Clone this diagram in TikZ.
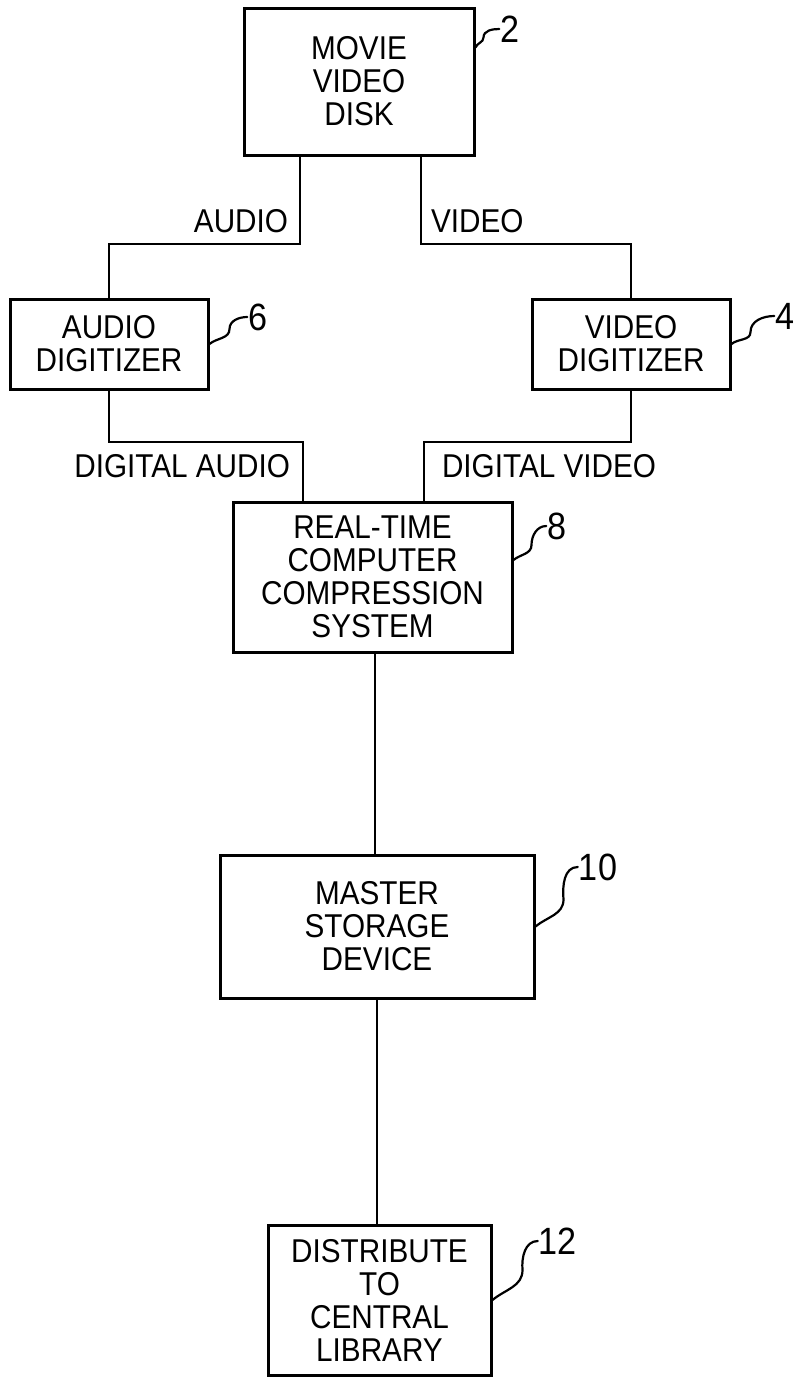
\documentclass[tikz,border=0pt]{standalone}
\usepackage{fontspec}
\setmainfont[FakeStretch=0.9]{Liberation Sans}
\usepackage{tikz}
\usetikzlibrary{
positioning,
calc
}
\tikzset{
patblock/.style={draw, rectangle, line width=3pt, inner sep=0pt, align=center,
  font=\fontsize{33}{33}\selectfont},
patwire/.style={line width=2pt},
patlabel/.style={inner sep=0pt, font=\fontsize{33}{33}\selectfont},
refnum/.style={inner sep=1pt, font=\fontsize{38}{38}\selectfont},
refline/.style={line width=2.2pt, line cap=round}
}

\begin{document}
\begin{tikzpicture}[x=1pt, y=1pt]
\useasboundingbox (0,0) rectangle (798,-1377);

\node[patblock, minimum width=230pt, minimum height=147pt] (disk) at (359,-81.5) {MOVIE\\VIDEO\\DISK};
\node[patblock, minimum width=198pt, minimum height=90pt] (audiodig) at (109,-344) {AUDIO\\DIGITIZER};
\node[patblock, minimum width=198pt, minimum height=90pt] (videodig) at (631,-344) {VIDEO\\DIGITIZER};
\node[patblock, minimum width=279pt, minimum height=150pt] (comp) at (372.5,-577) {REAL-TIME\\COMPUTER\\COMPRESSION\\SYSTEM};
\node[patblock, minimum width=314pt, minimum height=143pt] (master) at (377,-926.5) {MASTER\\STORAGE\\DEVICE};
\node[patblock, minimum width=223pt, minimum height=150pt] (distrib) at (379.5,-1300) {DISTRIBUTE\\TO\\CENTRAL\\LIBRARY};

\node[refnum] (n2) at (510,-29) {2};
\node[refnum] (n6) at (258,-317) {6};
\node[refnum] (n4) at (785,-316) {4};
\node[refnum] (n8) at (557,-526) {8};
\node[refnum] (n10) at (598,-867) {10};
\node[refnum] (n12) at (558,-1241) {12};

% disk to digitizers
\draw[patwire] ([xshift=-59pt]disk.south) -- ++(0,-87) node[patlabel, pos=0.74, left=11pt] {AUDIO} -| (audiodig.north);
\draw[patwire] ([xshift=62pt]disk.south) -- ++(0,-87) node[patlabel, pos=0.74, right=9pt] {VIDEO} -| (videodig.north);

% digitizers to compression
\draw[patwire] ([xshift=-69.5pt]comp.north) -- ++(0,59) node[patlabel, pos=0.59, left=12pt] {DIGITAL AUDIO} -| (audiodig.south);
\draw[patwire] ([xshift=51.5pt]comp.north) -- ++(0,59) node[patlabel, pos=0.59, right=17pt] {DIGITAL VIDEO} -| (videodig.south);

\draw[patwire] ([xshift=2pt]comp.south) -- ([xshift=2pt]comp.south |- master.north);
\draw[patwire] (master.south) -- (master.south |- distrib.north);

% reference leaders
\draw[refline] ([yshift=34pt]disk.east) to[out=70,in=-90] ++(8,10) to[out=90,in=180] (n2.west);
\draw[refline] (audiodig.east) to[out=40,in=-90] ++(20,15) to[out=90,in=180] (n6.west);
\draw[refline] (videodig.east) to[out=40,in=-90] ++(19,12) to[out=90,in=180] (n4.west);
\draw[refline] ([yshift=17pt]comp.east) to[out=40,in=-90] ++(18,15) to[out=90,in=180] (n8.west);
\draw[refline] (master.east) to[out=40,in=-90] ++(28,27) to[out=95,in=180] (n10.west);
\draw[refline] (distrib.east) to[out=40,in=-90] ++(30,30) to[out=95,in=180] (n12.west);
\end{tikzpicture}
\end{document}
